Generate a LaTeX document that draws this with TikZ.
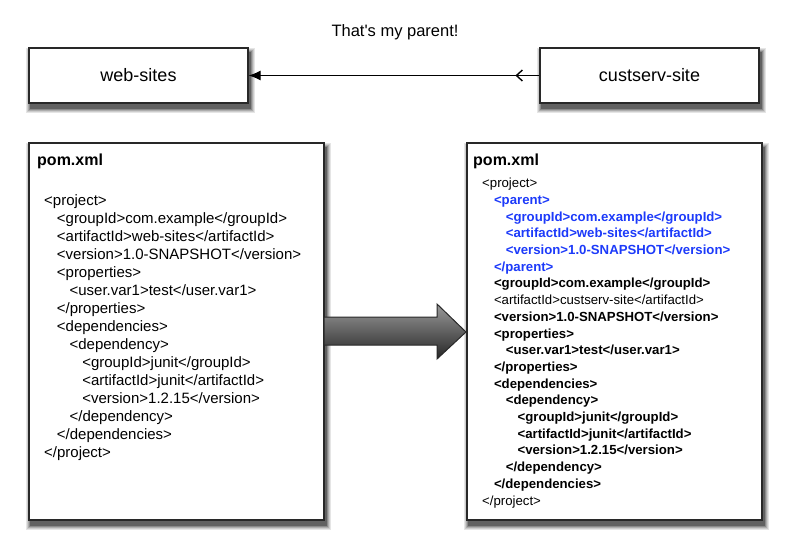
\documentclass[tikz,border=0pt]{standalone}
\usepackage{fontspec}
\setmainfont{Liberation Sans}
\usepackage{xcolor}
\usetikzlibrary{arrows.meta,backgrounds,decorations.markings}
\definecolor{xmlblue}{RGB}{28,58,250}
\definecolor{boxline}{RGB}{40,40,40}
\newcommand{\lind}[1]{\hspace*{#1\dimexpr 12.7pt\relax}}
\newcommand{\rind}[1]{\hspace*{#1\dimexpr 11.8pt\relax}}
\tikzset{
  module/.style={draw=boxline,line width=1.2pt,fill=white,minimum width=219pt,minimum height=55pt,
    font=\fontsize{18}{22}\selectfont},
  pombox/.style={draw=boxline,line width=1.2pt,fill=white,minimum width=295pt,minimum height=377pt},
  pomtitle/.style={anchor=base west,inner sep=0pt,font=\bfseries\fontsize{16}{19}\selectfont},
  xmlcode/.style={anchor=north west,inner sep=0pt,align=left},
  parentof/.style={-{Latex[length=12pt,width=10pt]},line width=1.2pt,
    postaction={decorate,decoration={markings,mark=at position 24pt with {\arrow{Straight Barb[length=6pt,width=11pt,line width=1.4pt]}}}}}
}
\begin{document}
\begin{tikzpicture}[x=1pt,y=-1pt]
  \useasboundingbox (0,0) rectangle (788,554);
  % modules
  \node[module] (web) at (138.5,75.5) {web-sites};
  \node[module] (cust) at (649.5,75.5) {custserv-site};
  \node[font=\fontsize{16.5}{20}\selectfont] (parentlbl) at (395,32) {That\textquotesingle s my parent!};
  \draw[parentof] (cust.west) -- (web.east);
  % pom boxes
  \node[pombox] (lpom) at (176.5,331.5) {};
  \node[pombox] (rpom) at (614.5,331.5) {};
  \draw[draw=boxline,line width=1pt,top color=black!40,middle color=black!38,bottom color=black!85]
    (324,317) -- (437,317) -- (437,304) -- (466,332) -- (437,359) -- (437,345) -- (324,345) -- cycle;
  \node[pomtitle] (ltitle) at (37,165) {pom.xml};
  \node[pomtitle] (rtitle) at (473,165) {pom.xml};
  \node[xmlcode,font=\fontsize{15}{18}\selectfont] (lcode) at (44,194) {%
    <project>\\
    \lind{1}<groupId>com.example</groupId>\\
    \lind{1}<artifactId>web-sites</artifactId>\\
    \lind{1}<version>1.0-SNAPSHOT</version>\\
    \lind{1}<properties>\\
    \lind{2}<user.var1>test</user.var1>\\
    \lind{1}</properties>\\
    \lind{1}<dependencies>\\
    \lind{2}<dependency>\\
    \lind{3}<groupId>junit</groupId>\\
    \lind{3}<artifactId>junit</artifactId>\\
    \lind{3}<version>1.2.15</version>\\
    \lind{2}</dependency>\\
    \lind{1}</dependencies>\\
    </project>};
  \node[xmlcode,font=\fontsize{13.2}{16.7}\selectfont] (rcode) at (482,178) {%
    <project>\\
    \rind{1}{\color{xmlblue}\bfseries <parent>}\\
    \rind{2}{\color{xmlblue}\bfseries <groupId>com.example</groupId>}\\
    \rind{2}{\color{xmlblue}\bfseries <artifactId>web-sites</artifactId>}\\
    \rind{2}{\color{xmlblue}\bfseries <version>1.0-SNAPSHOT</version>}\\
    \rind{1}{\color{xmlblue}\bfseries </parent>}\\
    \rind{1}{\bfseries <groupId>com.example</groupId>}\\
    \rind{1}<artifactId>custserv-site</artifactId>\\
    \rind{1}{\bfseries <version>1.0-SNAPSHOT</version>}\\
    \rind{1}{\bfseries <properties>}\\
    \rind{2}{\bfseries <user.var1>test</user.var1>}\\
    \rind{1}{\bfseries </properties>}\\
    \rind{1}{\bfseries <dependencies>}\\
    \rind{2}{\bfseries <dependency>}\\
    \rind{3}{\bfseries <groupId>junit</groupId>}\\
    \rind{3}{\bfseries <artifactId>junit</artifactId>}\\
    \rind{3}{\bfseries <version>1.2.15</version>}\\
    \rind{2}{\bfseries </dependency>}\\
    \rind{1}{\bfseries </dependencies>}\\
    </project>};
  % soft shadows under the boxes
  \begin{scope}[on background layer]
    \foreach \n in {web,cust,lpom,rpom}
      \foreach \r/\c in {4/10,3/20,2/32,1/46,0/62}
        \fill[black!\c] ([shift={(2-\r,5-\r)}]\n.north west) rectangle ([shift={(2+\r,5+\r)}]\n.south east);
  \end{scope}
\end{tikzpicture}
\end{document}
